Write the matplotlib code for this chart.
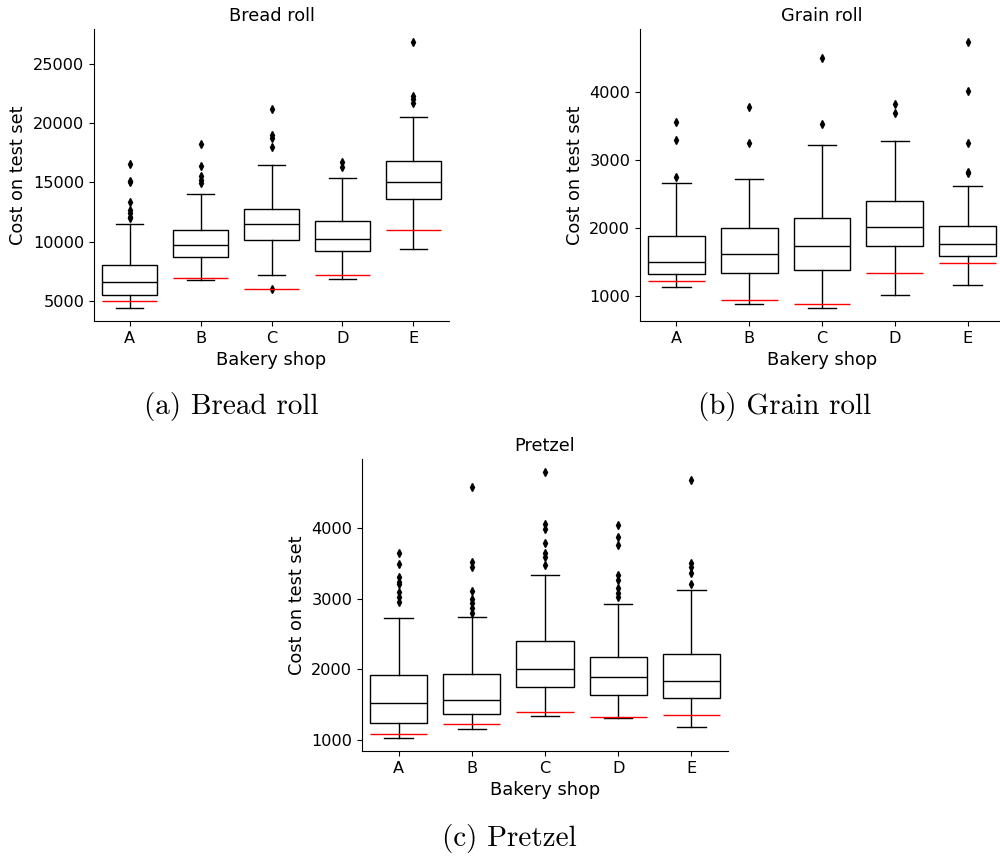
import numpy as np
import matplotlib
matplotlib.use("Agg")
import matplotlib.pyplot as plt

shops = ['A', 'B', 'C', 'D', 'E']

# Bread roll
bread_q1 = [5555, 8730, 10130, 9230, 13580]
bread_med = [6600, 9740, 11480, 10220, 15060]
bread_q3 = [8055, 10975, 12730, 11760, 16810]
bread_lo = [4460, 6770, 7240, 6880, 9400]
bread_hi = [11530, 14055, 16440, 15380, 20480]
bread_ref = [5050, 6960, 6060, 7210, 11030]
bread_out = [[16550, 15100, 15040, 13380, 12680, 12400, 12120, 11980],
             [18210, 16410, 15570, 15210, 14930],
             [21160, 18990, 18710, 18010, 6035],
             [16700, 16330],
             [26790, 22300, 22020, 21690]]

# Grain roll
grain_q1 = [1325, 1340, 1378, 1733, 1591]
grain_med = [1492, 1610, 1739, 2020, 1768]
grain_q3 = [1876, 2000, 2147, 2394, 2024]
grain_lo = [1123, 882, 823, 1004, 1157]
grain_hi = [2664, 2723, 3226, 3285, 2626]
grain_ref = [1216, 935, 876, 1330, 1488]
grain_out = [[3557, 3291, 2753],
             [3788, 3251],
             [4507, 3527],
             [3823, 3694],
             [4739, 4015, 3251, 2827, 2808]]

# Pretzel
pretzel_q1 = [1232, 1360, 1752, 1639, 1587]
pretzel_med = [1521, 1563, 1998, 1890, 1828]
pretzel_q3 = [1923, 1927, 2396, 2169, 2221]
pretzel_lo = [1028, 1156, 1331, 1312, 1185]
pretzel_hi = [2732, 2737, 3342, 2931, 3125]
pretzel_ref = [1085, 1227, 1388, 1327, 1345]
pretzel_out = [[3645, 3498, 3314, 3243, 3210, 3101, 3030, 2959],
               [4592, 3527, 3456, 3115, 2992, 2935, 2864, 2793],
               [4795, 4062, 3986, 3787, 3645, 3598, 3480],
               [4047, 3882, 3763, 3338, 3267, 3148, 3077, 3030],
               [4686, 3503, 3456, 3371, 3210]]

FIG_W, FIG_H = 10.0, 8.57
LABEL_FS = 12.8
TICK_FS = 11.6


def draw_panel(ax, title, q1, med, q3, lo, hi, ref, out):
    stats = []
    for i in range(len(shops)):
        stats.append(dict(q1=q1[i], med=med[i], q3=q3[i], whislo=lo[i],
                          whishi=hi[i], fliers=out[i], label=shops[i]))
    pos = np.arange(len(shops))
    lw = 1.0
    ax.bxp(stats, positions=pos, widths=0.78, patch_artist=True,
           boxprops=dict(facecolor='white', edgecolor='black', linewidth=lw),
           medianprops=dict(color='black', linewidth=lw),
           whiskerprops=dict(color='black', linewidth=lw),
           capprops=dict(color='black', linewidth=lw),
           flierprops=dict(marker='d', markerfacecolor='black',
                           markeredgecolor='black', markersize=4,
                           linestyle='none'))
    ax.hlines(ref, pos - 0.39, pos + 0.39, colors='red', linewidth=1.0,
              zorder=3)
    ax.set_xlim(-0.5, len(shops) - 0.5)
    ax.margins(y=0.05)
    ax.autoscale(axis='y')
    ax.set_title(title, fontsize=LABEL_FS)
    ax.set_xlabel('Bakery shop', fontsize=LABEL_FS)
    ax.set_ylabel('Cost on test set', fontsize=LABEL_FS)
    ax.tick_params(labelsize=TICK_FS)
    for s in ['top', 'right']:
        ax.spines[s].set_visible(False)


fig = plt.figure(figsize=(FIG_W, FIG_H), dpi=100)

ax1 = fig.add_axes([0.094, 1 - 321 / 857, 0.355, 292 / 857])
ax2 = fig.add_axes([0.640, 1 - 321 / 857, 0.364, 292 / 857])
ax3 = fig.add_axes([0.362, 1 - 751 / 857, 0.366, 292 / 857])

draw_panel(ax1, 'Bread roll', bread_q1, bread_med, bread_q3, bread_lo,
           bread_hi, bread_ref, bread_out)
draw_panel(ax2, 'Grain roll', grain_q1, grain_med, grain_q3, grain_lo,
           grain_hi, grain_ref, grain_out)
draw_panel(ax3, 'Pretzel', pretzel_q1, pretzel_med, pretzel_q3, pretzel_lo,
           pretzel_hi, pretzel_ref, pretzel_out)

ax1.set_yticks([5000, 10000, 15000, 20000, 25000])
ax2.set_yticks([1000, 2000, 3000, 4000])
ax3.set_yticks([1000, 2000, 3000, 4000])

CAP_FS = 21
fig.text(0.231, 1 - 414 / 857, '(a) Bread roll', fontfamily='cmr10',
         fontsize=CAP_FS, ha='center', va='baseline')
fig.text(0.785, 1 - 414 / 857, '(b) Grain roll', fontfamily='cmr10',
         fontsize=CAP_FS, ha='center', va='baseline')
fig.text(0.509, 1 - 846 / 857, '(c) Pretzel', fontfamily='cmr10',
         fontsize=CAP_FS, ha='center', va='baseline')

fig.savefig('out.png', dpi=100)
